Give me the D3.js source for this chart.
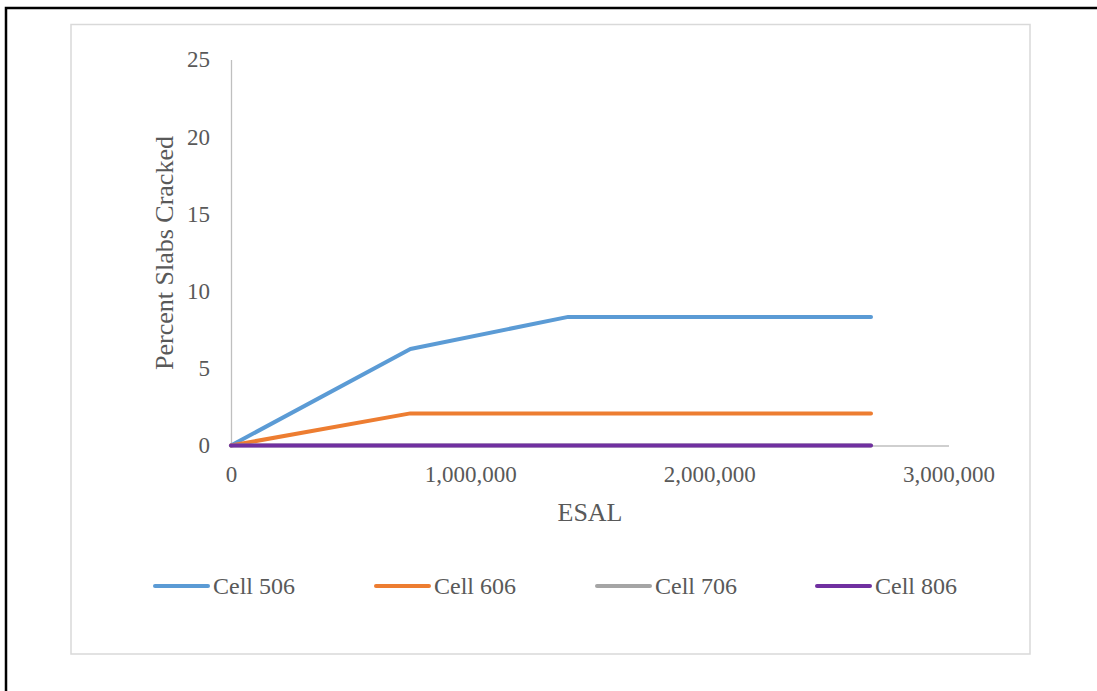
<!DOCTYPE html>
<html>
<head>
<meta charset="utf-8">
<script src="https://cdn.jsdelivr.net/npm/d3@7/dist/d3.min.js"></script>
<style>
  html, body { margin: 0; padding: 0; background: #fff; }
  svg { display: block; }
  text { font-family: "Liberation Serif", "Times New Roman", serif; fill: #595959; }
</style>
</head>
<body>
<svg id="chart" width="1097" height="691"></svg>
<script>
// ESAL at each survey, and percent of slabs cracked per test cell
const esal = [0, 750000, 1410000, 2676000];
const cell506 = [0, 6.25, 8.33, 8.33];
const cell606 = [0, 2.08, 2.08, 2.08];
const cell706 = [0, 0, 0, 0];
const cell806 = [0, 0, 0, 0];

const seriesNames = ["Cell 506", "Cell 606", "Cell 706", "Cell 806"];
const seriesColors = ["#5B9BD5", "#ED7D31", "#A5A5A5", "#7030A0"];
const xTicks = [0, 1000000, 2000000, 3000000];
const yTicks = [0, 5, 10, 15, 20, 25];

const svg = d3.select("#chart");

// page frame
svg.append("path")
  .attr("d", "M6,691 V8 H1097")
  .attr("fill", "none").attr("stroke", "#000").attr("stroke-width", 2.5);

// chart area border
svg.append("rect")
  .attr("x", 71).attr("y", 24.5).attr("width", 959).attr("height", 629.5)
  .attr("fill", "#fff").attr("stroke", "#d9d9d9").attr("stroke-width", 1.5);

const x = d3.scaleLinear().domain([0, 3000000]).range([231, 948.5]);
const y = d3.scaleLinear().domain([0, 25]).range([445.5, 59.5]);

// x axis
const xAxis = svg.append("g").attr("transform", `translate(0,${y(0)})`)
  .call(d3.axisBottom(x).tickValues(xTicks).tickSize(0).tickPadding(20)
    .tickFormat(d3.format(",")));
xAxis.select(".domain").attr("stroke", "#bfbfbf").attr("stroke-width", 1.3);
xAxis.selectAll("text").style("font-size", "23px").attr("fill", "#595959")
  .attr("font-family", null);

// y axis
const yAxis = svg.append("g").attr("transform", `translate(${x(0)},0)`)
  .call(d3.axisLeft(y).tickValues(yTicks).tickSize(0).tickPadding(21));
yAxis.select(".domain").attr("stroke", "#bfbfbf").attr("stroke-width", 1.3);
yAxis.selectAll("text").style("font-size", "23px").attr("fill", "#595959")
  .attr("font-family", null);

// axis titles
svg.append("text")
  .attr("x", 590).attr("y", 521)
  .attr("text-anchor", "middle")
  .style("font-size", "26px")
  .text("ESAL");

svg.append("text")
  .attr("transform", `translate(173,253) rotate(-90)`)
  .attr("text-anchor", "middle")
  .style("font-size", "26px")
  .text("Percent Slabs Cracked");

// series lines
const seriesData = [cell506, cell606, cell706, cell806];
const line = d3.line()
  .x((d, i) => x(esal[i]))
  .y(d => y(d));

seriesData.forEach((vals, k) => {
  svg.append("path")
    .datum(vals)
    .attr("d", line)
    .attr("fill", "none")
    .attr("stroke", seriesColors[k])
    .attr("stroke-width", 4)
    .attr("stroke-linejoin", "round")
    .attr("stroke-linecap", "round");
});

// legend
const legendX = [155, 376, 597, 817];
const legend = svg.append("g");
seriesNames.forEach((name, k) => {
  const g = legend.append("g").attr("transform", `translate(${legendX[k]},586)`);
  g.append("line")
    .attr("x1", 0).attr("x2", 53).attr("y1", 0).attr("y2", 0)
    .attr("stroke", seriesColors[k]).attr("stroke-width", 4)
    .attr("stroke-linecap", "round");
  g.append("text")
    .attr("x", 58).attr("y", 8)
    .style("font-size", "24px")
    .text(name);
});
</script>
</body>
</html>
